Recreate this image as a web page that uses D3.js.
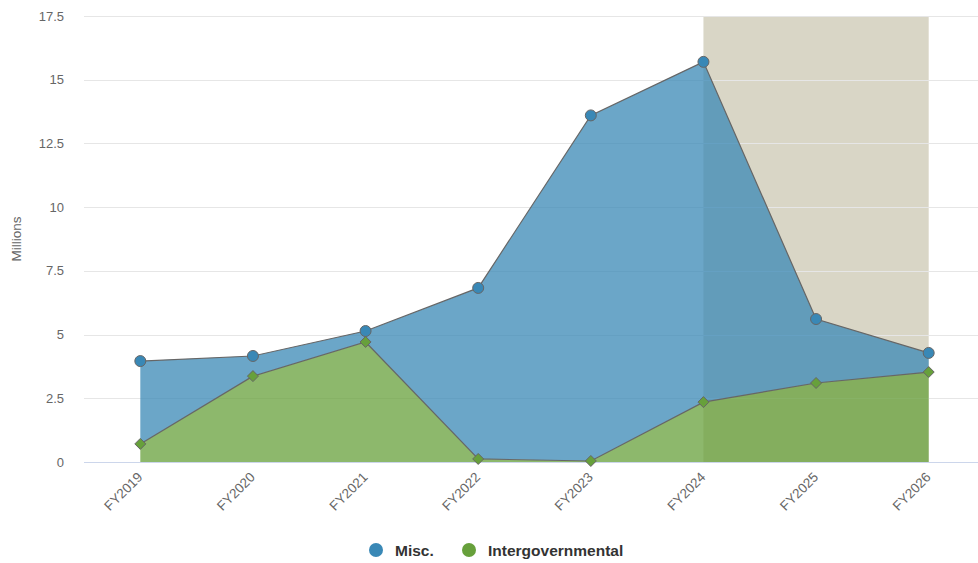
<!DOCTYPE html>
<html><head><meta charset="utf-8">
<script src="https://cdn.jsdelivr.net/npm/d3@7"></script>
<style>
body{margin:0;background:#fff;}
text{font-family:"Liberation Sans",Arial,Helvetica,sans-serif;}
</style></head>
<body><svg id="c" width="978" height="563"></svg>
<script>
const categories = ["FY2019","FY2020","FY2021","FY2022","FY2023","FY2024","FY2025","FY2026"];
// stacked series (Misc on top of Intergovernmental)
const misc = [3.25, 0.79, 0.43, 6.71, 13.56, 13.35, 2.51, 0.75];
const intergov = [0.71, 3.37, 4.71, 0.12, 0.04, 2.35, 3.10, 3.53];
const yTicks = [0, 2.5, 5, 7.5, 10, 12.5, 15, 17.5];
const bandFrom = "FY2024", bandTo = "FY2026";

(function(){
const svg = d3.select("#c");
const pL = 84, pR = 985, pT = 16, pB = 462;
const x = d3.scalePoint().domain(categories).range([pL, pR]).padding(0.5);
const y = d3.scaleLinear().domain([0, 17.5]).range([pB, pT]);

// plot band
svg.append("rect").attr("x", x(bandFrom)).attr("y", pT)
  .attr("width", x(bandTo) - x(bandFrom)).attr("height", pB - pT)
  .attr("fill", "#d9d6c6");

// grid
svg.append("g").selectAll("line").data(yTicks.filter(d => d > 0)).join("line")
  .attr("x1", pL).attr("x2", 978).attr("y1", d => Math.round(y(d)) + 0.5).attr("y2", d => Math.round(y(d)) + 0.5)
  .attr("stroke", "#e6e6e6").attr("stroke-width", 1);

// y labels
svg.append("g").selectAll("text").data(yTicks).join("text")
  .attr("x", 64).attr("y", d => y(d) + 4.5).attr("text-anchor", "end")
  .attr("font-size", 13).attr("fill", "#666").text(d => d);

svg.append("text").attr("transform", `translate(21,${(pT + pB) / 2}) rotate(-90)`)
  .attr("text-anchor", "middle").attr("font-size", 13.5).attr("fill", "#666").text("Millions");

// stacked data
const data = categories.map((c, i) => ({c, g: intergov[i], m: intergov[i] + misc[i]}));

const areaG = d3.area().x(d => x(d.c)).y0(y(0)).y1(d => y(d.g));
const areaM = d3.area().x(d => x(d.c)).y0(d => y(d.g)).y1(d => y(d.m));
svg.append("path").datum(data).attr("d", areaM).attr("fill", "#3988b6").attr("fill-opacity", 0.75);
svg.append("path").datum(data).attr("d", areaG).attr("fill", "#67a03b").attr("fill-opacity", 0.75);

const lineG = d3.line().x(d => x(d.c)).y(d => y(d.g));
const lineM = d3.line().x(d => x(d.c)).y(d => y(d.m));
svg.append("path").datum(data).attr("d", lineM).attr("fill", "none").attr("stroke", "#666").attr("stroke-width", 1.2);
svg.append("path").datum(data).attr("d", lineG).attr("fill", "none").attr("stroke", "#666").attr("stroke-width", 1.2);

// x axis line
svg.append("line").attr("x1", pL).attr("x2", 978).attr("y1", pB + 0.5).attr("y2", pB + 0.5)
  .attr("stroke", "#ccd6eb").attr("stroke-width", 1);

// markers
svg.append("g").selectAll("circle").data(data).join("circle")
  .attr("cx", d => x(d.c)).attr("cy", d => y(d.m)).attr("r", 5.5)
  .attr("fill", "#3988b6").attr("stroke", "#666").attr("stroke-width", 1);
svg.append("g").selectAll("path").data(data).join("path")
  .attr("d", d => { const cx = x(d.c), cy = y(d.g), r = 5.5; return `M${cx},${cy - r}L${cx + r},${cy}L${cx},${cy + r}L${cx - r},${cy}Z`; })
  .attr("fill", "#67a03b").attr("stroke", "#666").attr("stroke-width", 1);

// x labels
svg.append("g").selectAll("text").data(categories).join("text")
  .attr("transform", d => `translate(${x(d) + 3},${478}) rotate(-45)`)
  .attr("text-anchor", "end").attr("font-size", 13.5).attr("fill", "#666").text(d => d);

// legend
const legend = [{n: "Misc.", c: "#3988b6", x: 376}, {n: "Intergovernmental", c: "#67a03b", x: 469}];
const lg = svg.append("g");
legend.forEach(l => {
  lg.append("circle").attr("cx", l.x).attr("cy", 550).attr("r", 7).attr("fill", l.c);
  lg.append("text").attr("x", l.x + 19).attr("y", 556).attr("font-size", 15.5).attr("font-weight", "bold")
    .attr("fill", "#333").text(l.n);
});
})();
</script></body></html>
